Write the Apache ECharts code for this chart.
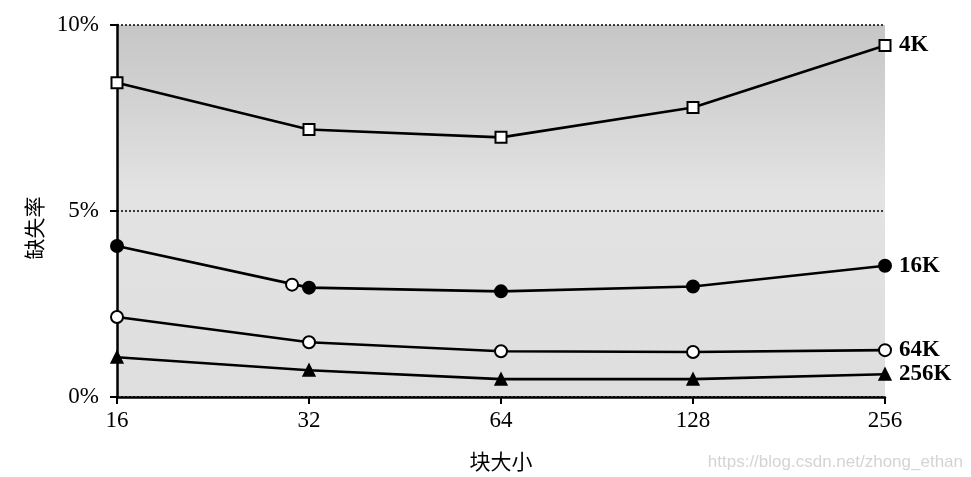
<!DOCTYPE html>
<html>
<head>
<meta charset="utf-8">
<script src="https://cdn.jsdelivr.net/npm/echarts@6/dist/echarts.min.js"></script>
<style>html,body{margin:0;padding:0;background:#fff;}#c{width:971px;height:477px;}</style>
</head>
<body>
<div id="c"></div>
<script>
var blockSizes = [16, 32, 64, 128, 256];
var miss4K   = [8.45, 7.19, 6.98, 7.78, 9.45];
var miss16K  = [4.06, 2.94, 2.84, 2.97, 3.53];
var miss64K  = [2.15, 1.47, 1.23, 1.21, 1.26];
var miss256K = [1.07, 0.72, 0.48, 0.48, 0.61];
var strayPoint = [[30.1, 3.02]];
var yTicks = ['0%', '5%', '10%'];

function pairs(vals) { return blockSizes.map(function (b, i) { return [b, vals[i]]; }); }

var serif = 'Liberation Serif';
var chart = echarts.init(document.getElementById('c'), null, {renderer: 'canvas'});

function mkSeries(name, vals, symbol, size, fill) {
  return {
    name: name, type: 'line', data: pairs(vals),
    symbol: symbol, symbolSize: size, showAllSymbol: true,
    lineStyle: {color: '#000', width: 2.6},
    itemStyle: {color: fill, borderColor: '#000', borderWidth: 2},
    endLabel: {show: true, formatter: name, color: '#000', fontFamily: serif, fontSize: 23, fontWeight: 'bold', distance: 14},
    z: 3, animation: false
  };
}

chart.setOption({
  animation: false,
  grid: {left: 117, right: 86, top: 25, bottom: 78, show: true, borderWidth: 0,
    backgroundColor: new echarts.graphic.LinearGradient(0, 0, 0, 1, [
      {offset: 0, color: '#c6c6c6'}, {offset: 0.2, color: '#d2d2d2'},
      {offset: 0.45, color: '#e3e3e3'}, {offset: 1, color: '#dedede'}])},
  xAxis: {
    type: 'log', logBase: 2, min: 16, max: 256,
    axisLine: {show: true, lineStyle: {color: '#000', width: 2.5}},
    axisTick: {show: true, length: 7, lineStyle: {color: '#000', width: 2}},
    minorTick: {show: false},
    splitLine: {show: false},
    axisLabel: {color: '#000', fontFamily: serif, fontSize: 23, margin: 12},
    name: '块大小', nameLocation: 'middle', nameGap: 54,
    nameTextStyle: {color: '#000', fontFamily: 'Noto Sans CJK SC', fontSize: 21}
  },
  yAxis: {
    type: 'value', min: 0, max: 10, interval: 5,
    axisLine: {show: true, lineStyle: {color: '#000', width: 2.5}},
    axisTick: {show: true, length: 7, lineStyle: {color: '#000', width: 2}},
    splitLine: {show: true, lineStyle: {color: '#000', type: [2, 2], width: 1.5}},
    axisLabel: {color: '#000', fontFamily: serif, fontSize: 23, margin: 18,
      formatter: function (v) { return yTicks[v / 5]; }},
    name: '缺失率', nameLocation: 'middle', nameGap: 72, nameRotate: 90,
    nameTextStyle: {color: '#000', fontFamily: 'Noto Sans CJK SC', fontSize: 21, padding: [0, 0, 0, -34]}
  },
  series: [
    mkSeries('4K', miss4K, 'rect', 11, '#fff'),
    mkSeries('16K', miss16K, 'circle', 12, '#000'),
    mkSeries('64K', miss64K, 'circle', 12, '#fff'),
    mkSeries('256K', miss256K, 'triangle', 11, '#000'),
    {type: 'scatter', data: strayPoint, symbol: 'circle', symbolSize: 12,
     itemStyle: {color: '#fff', borderColor: '#000', borderWidth: 2, opacity: 1}, z: 4}
  ],
  graphic: [{type: 'text', right: 8, top: 454,
    style: {text: 'https://blog.csdn.net/zhong_ethan', fill: '#d4d4d4', font: '17px "Liberation Sans"'}}]
});
</script>
</body>
</html>
